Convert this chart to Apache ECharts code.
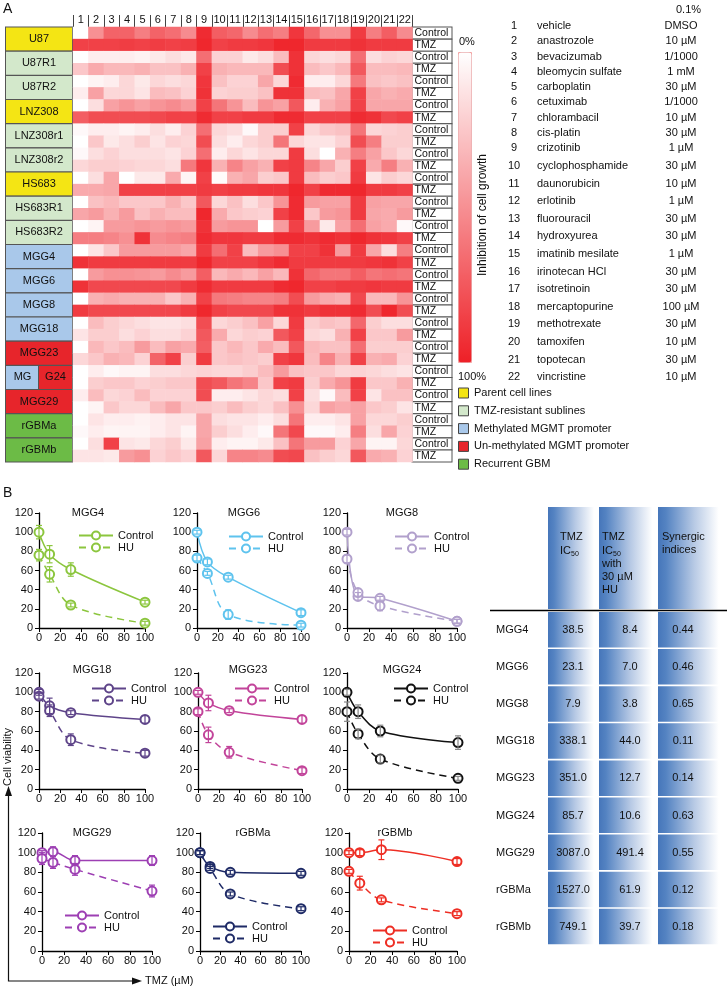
<!DOCTYPE html>
<html><head><meta charset="utf-8">
<script src="https://cdn.jsdelivr.net/npm/echarts@6/dist/echarts.min.js"></script>
<style>html,body{margin:0;padding:0;background:#fff}#c{width:728px;height:986px}</style>
</head><body><div id="c"></div>
<script>
const FONT = '"Liberation Sans", Arial, Helvetica, sans-serif';

// ---------- Panel A data ----------
const drugNumbers = ['1','2','3','4','5','6','7','8','9','10','11','12','13','14','15','16','17','18','19','20','21','22'];
const drugNames = ['vehicle','anastrozole','bevacizumab','bleomycin sulfate','carboplatin','cetuximab','chlorambacil','cis-platin','crizotinib','cyclophosphamide','daunorubicin','erlotinib','fluorouracil','hydroxyurea','imatinib mesilate','irinotecan HCl','isotretinoin','mercaptopurine','methotrexate','tamoxifen','topotecan','vincristine'];
const drugConc = ['DMSO','10 µM','1/1000','1 mM','30 µM','1/1000','10 µM','30 µM','1 µM','30 µM','10 µM','1 µM','30 µM','30 µM','1 µM','30 µM','30 µM','100 µM','30 µM','10 µM','30 µM','10 µM'];
const vehicleNote = '0.1%';
const cellLines = ['U87','U87R1','U87R2','LNZ308','LNZ308r1','LNZ308r2','HS683','HS683R1','HS683R2','MGG4','MGG6','MGG8','MGG18','MGG23','MGG24','MGG29','rGBMa','rGBMb'];
const cellGroups = ['parent','resist','resist','parent','resist','resist','parent','resist','resist','meth','meth','meth','meth','unmeth','split','unmeth','recur','recur'];
const conditions = ['Control','TMZ'];
const heatControl = [
 [0,50,70,70,58,70,65,52,95,72,68,52,65,58,90,68,50,50,88,58,72,52],
 [0,8,8,8,6,10,15,10,65,20,20,10,15,30,92,18,15,18,65,15,20,18],
 [0,5,8,18,10,18,15,18,90,28,20,20,40,18,95,8,8,18,60,28,25,28],
 [0,15,42,48,42,48,52,45,85,62,48,30,48,42,75,8,35,42,85,40,40,40],
 [3,8,8,5,8,15,8,20,65,18,15,3,22,22,85,18,25,28,62,18,20,22],
 [3,15,20,15,15,15,12,20,65,8,18,12,18,18,88,15,0,35,58,42,25,18],
 [0,15,40,0,10,10,38,5,85,2,35,40,22,25,88,30,22,25,88,12,22,18],
 [0,28,32,25,25,25,35,25,75,18,28,15,25,48,95,45,42,42,88,42,40,40],
 [0,5,45,45,48,45,48,45,92,45,48,48,0,45,85,45,10,42,65,42,38,3],
 [0,12,25,45,45,45,45,40,88,65,85,30,45,50,85,85,92,45,88,40,15,58],
 [0,45,50,50,48,45,52,45,72,32,38,32,42,32,92,68,62,62,72,62,65,62],
 [0,35,38,35,35,35,25,35,85,60,58,55,55,58,80,45,38,35,82,32,32,48],
 [0,30,22,18,15,12,12,15,80,18,22,28,42,18,88,22,28,25,68,22,15,15],
 [0,32,25,30,45,30,42,38,72,25,32,25,38,30,75,32,28,28,65,22,22,22],
 [0,8,3,5,5,15,15,18,20,18,18,22,30,45,28,25,25,18,20,18,15,12],
 [8,30,18,20,30,20,20,20,80,8,8,12,18,15,85,15,3,30,85,12,28,28],
 [0,12,8,8,6,8,12,12,40,15,12,12,8,15,62,8,8,12,42,18,18,22],
 [0,15,85,12,10,18,22,10,42,8,5,5,10,28,62,45,45,20,40,5,5,18]
];
const heatTMZ = [
 [85,85,85,87,85,87,85,87,97,85,88,88,90,97,97,88,88,88,92,88,88,88],
 [25,38,32,32,35,28,28,35,85,35,32,32,32,80,92,30,25,32,75,30,30,32],
 [8,42,18,18,12,30,28,20,92,20,22,22,28,92,92,30,28,40,85,40,35,38],
 [72,80,80,80,80,82,85,85,95,85,85,88,88,95,95,85,85,85,95,92,82,85],
 [0,25,10,15,22,12,20,18,80,15,8,18,22,62,18,12,12,20,80,58,22,22],
 [18,22,22,20,18,18,15,60,90,35,55,42,35,85,88,55,40,22,85,38,58,35],
 [38,38,40,85,85,85,85,85,88,85,88,88,90,90,97,85,95,95,97,88,88,85],
 [40,45,35,45,28,35,30,30,97,38,25,22,20,85,95,25,45,48,88,40,38,45],
 [58,58,55,50,92,52,55,58,95,90,90,88,88,95,95,92,95,92,97,92,90,85],
 [92,88,88,88,88,88,88,88,97,85,85,85,90,95,88,88,88,88,88,90,92,85],
 [92,82,82,82,82,82,82,88,95,88,88,88,88,95,97,85,85,88,88,90,88,88],
 [88,82,82,82,82,82,82,88,97,85,82,82,82,92,92,88,92,92,95,80,97,80],
 [12,22,22,15,20,15,15,20,75,38,18,22,20,75,85,18,15,35,85,25,25,45],
 [18,25,35,32,20,70,85,22,88,25,28,25,22,85,90,30,55,35,85,35,38,20],
 [0,22,25,25,20,22,25,25,80,75,62,55,25,85,88,22,38,48,88,25,25,35],
 [0,5,25,18,18,30,40,25,25,22,30,22,18,28,50,18,42,38,42,25,22,12],
 [3,8,5,5,5,8,12,5,40,22,15,8,3,62,82,3,3,8,58,15,40,20],
 [12,12,10,45,50,20,25,20,75,18,55,55,52,80,82,28,22,18,75,38,35,20]
];
const scaleLabels = ['0%','100%'];
const scaleTitle = 'Inhibition of cell growth';
const groupLegend = ['Parent cell lines','TMZ-resistant sublines','Methylated MGMT promoter','Un-methylated MGMT promoter','Recurrent GBM'];
const groupKeys = ['parent','resist','meth','unmeth','recur'];

// ---------- Panel B data ----------
const tmzDoses = [0,10,30,100];
const curveLines = ['MGG4','MGG6','MGG8','MGG18','MGG23','MGG24','MGG29','rGBMa','rGBMb'];
const controlMeans = [[100,77,61,27],[100,69,53,16],[100,33,31,7],[100,86,79,72],[100,89,81,72],[100,80,60,48],[100,101,92,92],[100,86,80,79],[100,100,103,91]];
const controlErr   = [[7,9,7,2],[2,3,2,3],[3,4,2,2],[3,8,2,4],[2,8,2,4],[3,7,6,7],[2,5,5,5],[2,2,2,2],[2,3,10,3]];
const huMeans      = [[76,56,24,5],[73,57,14,3],[72,37,23,7],[96,81,51,37],[80,56,38,19],[80,57,31,11],[94,90,83,61],[100,84,58,43],[81,69,52,38]];
const huErr        = [[6,8,2,2],[3,2,5,2],[4,4,5,2],[3,6,6,3],[3,8,6,3],[10,5,4,2],[6,6,6,6],[2,2,2,2],[2,7,2,2]];
const seriesLabels = ['Control','HU'];
const yAxisTitle = 'Cell viability';
const xAxisTitle = 'TMZ (µM)';
const tableLines = ['MGG4','MGG6','MGG8','MGG18','MGG23','MGG24','MGG29','rGBMa','rGBMb'];
const ic50TMZ = ['38.5','23.1','7.9','338.1','351.0','85.7','3087.0','1527.0','749.1'];
const ic50HU  = ['8.4','7.0','3.8','44.0','12.7','10.6','491.4','61.9','39.7'];
const synergy = ['0.44','0.46','0.65','0.11','0.14','0.63','0.55','0.12','0.18'];

// ---------- styles / layout ----------
const groupColor = {parent:'#f4e514', resist:'#d3e8cb', meth:'#a9c8ea', unmeth:'#e7252b', recur:'#6cbb46'};
const lineColor = ['#8cc63e','#5ec3ee','#b1a0cc','#5e4489','#c2449a','#111111','#9d3fb3','#1e2a66','#ee2e24'];
const errColor  = ['#8cc63e','#5ec3ee','#b1a0cc','#5e4489','#c2449a','#888888','#9d3fb3','#1e2a66','#ee2e24'];
const gridBoxes = [
 [39,513,106,115],[197,513,104,115],[347,513,110,115],
 [39,673,106,116],[198,673,104,116],[347,673,111,116],
 [42,833,110,118],[200,833,101,118],[349,833,108,118]];
const titlePos = [[88,513],[244,513],[402,513],[92,670],[248,670],[402,670],[92,833],[253,833],[395,833]];
const legendPos = [[78,537],[228,538],[394,538],[91,690],[234,690],[393,690],[64,917],[212,928],[372,932]];

const graphics = [];
function txt(x, y, text, o) {
  o = o || {};
  graphics.push({type:'text', x:x, y:y, rotation:o.rot||0, silent:true, z:10,
    style:{text:text, fill:o.color||'#111', font:(o.size||11)+'px '+FONT, align:o.align||'left', verticalAlign:o.va||'middle'}});
}
function rect(x,y,w,h,fill,stroke){
  graphics.push({type:'rect', silent:true, z:5, shape:{x:x,y:y,width:w,height:h}, style:{fill:fill, stroke:stroke||null, lineWidth:stroke?1:0}});
}

// Panel labels
txt(3, 9, 'A', {size:14});
txt(3, 493, 'B', {size:14});

// colour scale labels
txt(459, 42, scaleLabels[0], {size:11});
txt(458, 377, scaleLabels[1], {size:11});
txt(483, 215, scaleTitle, {size:12, rot:Math.PI/2, align:'center'});

// drug list
txt(676, 10, vehicleNote);
drugNumbers.forEach((n,i)=>{
  const y = i < 9 ? 26 + 15.25*i : 166 + 17.6*(i-9);
  txt(514, y, n, {align:'center'});
  txt(537, y, drugNames[i]);
  txt(681, y, drugConc[i], {align:'center'});
});

// group legend
groupLegend.forEach((l,i)=>{
  const y = 393 + 17.8*i;
  rect(458.5, y-5, 10, 10, groupColor[groupKeys[i]], '#444');
  txt(474, y, l);
});

// axis arrows panel B
graphics.push({type:'polyline', silent:true, shape:{points:[[8.5,795],[8.5,981],[133,981]]}, style:{stroke:'#111', lineWidth:1.2, fill:null}});
graphics.push({type:'polygon', silent:true, shape:{points:[[8.5,786],[5,796],[12,796]]}, style:{fill:'#111'}});
graphics.push({type:'polygon', silent:true, shape:{points:[[142,981],[132,977.5],[132,984.5]]}, style:{fill:'#111'}});
txt(8, 757, yAxisTitle, {rot:Math.PI/2, align:'center'});
txt(145, 981, xAxisTitle);

// chart titles
curveLines.forEach((n,i)=> txt(titlePos[i][0], titlePos[i][1], n, {align:'center'}));

// table
const grad = {type:'linear', x:0, y:0, x2:1, y2:0, colorStops:[
  {offset:0, color:'#4676ba'},{offset:0.12, color:'#5483c2'},{offset:0.55, color:'#b8cae5'},{offset:0.92, color:'#ffffff'}]};
const colX = [548, 599, 658], colW = [50, 58, 66], colTextX = [573, 630, 683];
colX.forEach((x,j)=>{
  rect(x, 507, colW[j], 102, grad);
  tableLines.forEach((n,k)=> rect(x, 612 + 37.1*k, colW[j], 35.5, grad));
});
graphics.push({type:'line', silent:true, z:6, shape:{x1:490,y1:610.5,x2:727,y2:610.5}, style:{stroke:'#000', lineWidth:1.5}});
txt(560, 537, 'TMZ'); txt(560, 551, 'IC'); txt(571, 554, '50', {size:7});
txt(602, 537, 'TMZ'); txt(602, 551, 'IC'); txt(613, 554, '50', {size:7});
txt(602, 564, 'with'); txt(602, 577, '30 µM'); txt(602, 590, 'HU');
txt(662, 537, 'Synergic'); txt(662, 550, 'indices');
tableLines.forEach((n,k)=>{
  const y = 612 + 37.1*k + 18;
  txt(496, y, n);
  txt(colTextX[0], y, ic50TMZ[k], {align:'center'});
  txt(colTextX[1], y, ic50HU[k], {align:'center'});
  txt(colTextX[2], y, synergy[k], {align:'center'});
});

// ---------- heatmap ----------
const rowLabels = [];
const heatData = [];
cellLines.forEach((c,i)=>{
  [heatControl[i], heatTMZ[i]].forEach((vals,t)=>{
    const r = i*2 + t;
    rowLabels.push(conditions[t]);
    vals.forEach((v,j)=> heatData.push([j, r, v]));
  });
});
const boxBase = {height:23, lineHeight:23, align:'center', borderColor:'#555', borderWidth:1, fontSize:11, color:'#111', fontFamily:FONT};
const leftRich = {};
Object.keys(groupColor).forEach(k=> leftRich[k] = Object.assign({}, boxBase, {width:66, backgroundColor:groupColor[k]}));
leftRich.sa = Object.assign({}, boxBase, {width:33, backgroundColor:groupColor.meth});
leftRich.sb = Object.assign({}, boxBase, {width:33, backgroundColor:groupColor.unmeth});

const grids = [{left:73, top:27, width:339.5, height:435, outerBoundsMode:'none', containLabel:false}];
const xAxes = [{gridIndex:0, type:'category', data:drugNumbers, position:'top',
  axisLine:{show:false}, axisTick:{show:true, length:12, lineStyle:{color:'#444'}},
  axisLabel:{interval:0, margin:2, fontSize:11, color:'#111', fontFamily:FONT}, splitLine:{show:false}}];
const yAxes = [
  {gridIndex:0, type:'category', data:cellLines, inverse:true, position:'left',
   axisLine:{show:false}, axisTick:{show:false}, splitLine:{show:false},
   axisLabel:{interval:0, margin:1, rich:leftRich,
     formatter:(v,i)=> cellGroups[i]==='split' ? '{sa|' + v.slice(0,2) + '}{sb|' + v.slice(2) + '}' : '{' + cellGroups[i] + '|' + v + '}'}},
  {gridIndex:0, type:'category', data:rowLabels, inverse:true, position:'right',
   axisLine:{show:false}, axisTick:{show:false}, splitLine:{show:false},
   axisLabel:{interval:0, margin:0, rich:{b:{width:37, height:11, lineHeight:11, padding:[0,0,0,2], backgroundColor:'#fff', borderColor:'#555', borderWidth:1, fontSize:10.5, color:'#111', fontFamily:FONT, align:'left'}},
     formatter:v=> '{b|' + v + '}'}}
];
const series = [{type:'heatmap', xAxisIndex:0, yAxisIndex:1, data:heatData, itemStyle:{borderWidth:0}, emphasis:{disabled:true}, progressive:0}];
const legends = [];

function errRender(color){
  return function(params, api){
    const p1 = api.coord([api.value(0), api.value(1)]);
    const p2 = api.coord([api.value(0), api.value(2)]);
    const st = {stroke:color, lineWidth:1.2};
    return {type:'group', children:[
      {type:'line', shape:{x1:p1[0],y1:p1[1],x2:p2[0],y2:p2[1]}, style:st},
      {type:'line', shape:{x1:p1[0]-3,y1:p1[1],x2:p1[0]+3,y2:p1[1]}, style:st},
      {type:'line', shape:{x1:p2[0]-3,y1:p2[1],x2:p2[0]+3,y2:p2[1]}, style:st}]};
  };
}

curveLines.forEach((name,i)=>{
  const g = gridBoxes[i];
  grids.push({left:g[0], top:g[1], width:g[2], height:g[3], outerBoundsMode:'none', containLabel:false});
  const axisCommon = {axisLine:{show:true, lineStyle:{color:'#000', width:1.3}}, axisTick:{show:true, length:4, lineStyle:{color:'#000'}},
    axisLabel:{fontSize:11, color:'#111', fontFamily:FONT}, splitLine:{show:false}};
  xAxes.push(Object.assign({gridIndex:i+1, type:'value', min:0, max:100, interval:20}, axisCommon, {axisLabel:{fontSize:11, color:'#111', margin:4, fontFamily:FONT}}));
  yAxes.push(Object.assign({gridIndex:i+1, type:'value', min:0, max:120, interval:20}, axisCommon, {axisLabel:{fontSize:11, color:'#111', margin:6, fontFamily:FONT}}));
  const zw = '\u200b'.repeat(i);
  const cName = seriesLabels[0] + zw, hName = seriesLabels[1] + zw;
  const c = lineColor[i];
  const mk = (means)=> tmzDoses.map((d,k)=>[d, means[k]]);
  const ek = (means, err)=> tmzDoses.map((d,k)=>[d, means[k]-err[k], means[k]+err[k]]);
  series.push({name:cName, type:'line', xAxisIndex:i+1, yAxisIndex:i+2, data:mk(controlMeans[i]), smooth:0.35,
    symbol:'emptyCircle', symbolSize:9, showAllSymbol:true, lineStyle:{color:c, width:1.5}, itemStyle:{color:c, borderColor:c, borderWidth:1.5}, z:3, emphasis:{disabled:true}});
  series.push({name:hName, type:'line', xAxisIndex:i+1, yAxisIndex:i+2, data:mk(huMeans[i]), smooth:0.35,
    symbol:'emptyCircle', symbolSize:9, showAllSymbol:true, lineStyle:{color:c, width:1.5, type:[7,5]}, itemStyle:{color:c, borderColor:c, borderWidth:1.5}, z:3, emphasis:{disabled:true}});
  series.push({type:'custom', xAxisIndex:i+1, yAxisIndex:i+2, data:ek(controlMeans[i], controlErr[i]), renderItem:errRender(errColor[i]), z:4, silent:true, clip:false});
  series.push({type:'custom', xAxisIndex:i+1, yAxisIndex:i+2, data:ek(huMeans[i], huErr[i]), renderItem:errRender(errColor[i]), z:4, silent:true, clip:false});
  legends.push({data:[cName, hName], orient:'vertical', left:legendPos[i][0], top:legendPos[i][1]-7, padding:0, itemGap:1,
    itemWidth:34, itemHeight:10, selectedMode:false, formatter:n=> n.replace(/\u200b/g,''),
    textStyle:{fontSize:11, color:'#111', fontFamily:FONT}});
});

const option = {
  animation:false,
  textStyle:{fontFamily:FONT},
  grid:grids, xAxis:xAxes, yAxis:yAxes,
  visualMap:{type:'continuous', seriesIndex:0, min:0, max:100, inverse:true, orient:'vertical', left:458, top:52,
    itemWidth:13, itemHeight:310, calculable:false, text:null, padding:0, borderColor:'#f4a3a3', borderWidth:1,
    inRange:{color:['#ffffff','#ee2027']}, hoverLink:false},
  legend:legends,
  series:series,
  graphic:{elements:graphics}
};
const chart = echarts.init(document.getElementById('c'), null, {renderer:'canvas'});
chart.setOption(option);
</script></body></html>
